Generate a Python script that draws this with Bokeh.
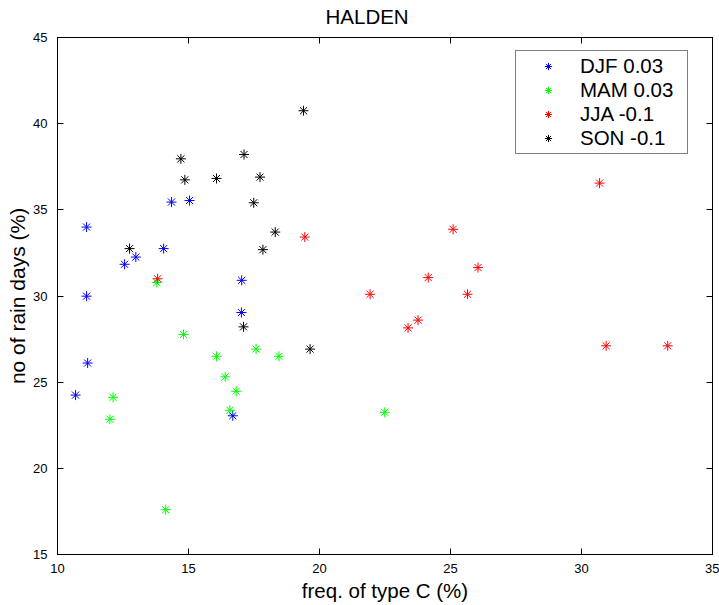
from bokeh.plotting import figure
from bokeh.models import (LinearAxis, Range1d, SingleIntervalTicker, Legend,
                          LegendItem, ColumnDataSource)
from bokeh.embed import file_html
from bokeh.resources import INLINE

# ---- data ----
djf_x = [14.35, 15.04, 11.11, 14.05, 12.99, 12.56, 17.03, 11.11, 17.02, 11.15, 10.69, 16.69]
djf_y = [35.45, 35.54, 34.00, 32.75, 32.26, 31.84, 30.91, 29.99, 29.04, 26.11, 24.25, 23.05]
mam_x = [13.79, 14.81, 17.58, 16.07, 18.45, 16.40, 16.82, 12.12, 16.58, 12.00, 14.13, 22.49]
mam_y = [30.78, 27.77, 26.92, 26.50, 26.50, 25.31, 24.47, 24.12, 23.37, 22.85, 17.60, 23.25]
jja_x = [13.82, 19.44, 21.93, 30.69, 25.10, 26.05, 24.15, 25.65, 23.76, 23.38, 30.94, 33.29]
jja_y = [31.00, 33.42, 30.10, 36.55, 33.87, 31.65, 31.07, 30.10, 28.60, 28.15, 27.11, 27.11]
son_x = [19.39, 14.71, 17.12, 14.86, 16.07, 17.73, 17.49, 18.31, 12.75, 17.84, 17.10, 19.64]
son_y = [40.75, 37.96, 38.21, 36.74, 36.82, 36.90, 35.41, 33.71, 32.75, 32.69, 28.21, 26.92]

series_labels = ["DJF 0.03", "MAM 0.03", "JJA -0.1", "SON -0.1"]
series_colors = ["#0000ff", "#00ff00", "#ff0000", "#000000"]
series_x = [djf_x, mam_x, jja_x, son_x]
series_y = [djf_y, mam_y, jja_y, son_y]

title_text = "HALDEN"
x_label = "freq. of type C (%)"
y_label = "no of rain days (%)"
x_min, x_max, y_min, y_max = 10, 35, 15, 45
tick_step = 5

FONT = "Liberation Sans"

p = figure(width=719, height=605, output_backend="svg", toolbar_location=None,
           x_range=Range1d(x_min, x_max), y_range=Range1d(y_min, y_max),
           min_border_left=57, min_border_right=7, min_border_top=37,
           min_border_bottom=51)
p.background_fill_color = "white"
p.border_fill_color = "white"
p.outline_line_color = "black"
p.outline_line_width = 1
p.xgrid.visible = False
p.ygrid.visible = False

p.title.text = title_text
p.title.align = "left"
p.title.offset = 268
p.title.vertical_align = "top"
p.title.text_font = FONT
p.title.text_font_size = "20.5px"
p.title.text_font_style = "normal"
p.title.text_color = "black"
p.title.standoff = 8

def style_axis(ax, labels=True):
    ax.ticker = SingleIntervalTicker(interval=tick_step)
    ax.major_tick_in = 6
    ax.major_tick_out = 0
    ax.minor_tick_line_color = None
    ax.axis_line_color = "black"
    ax.major_tick_line_color = "black"
    ax.major_label_text_font = FONT
    if labels:
        ax.major_label_text_font_size = "13px"
        ax.major_label_text_color = "black"
    else:
        ax.major_label_text_font_size = "1px"
        ax.major_label_text_color = None
        ax.major_label_standoff = 0

xa = p.xaxis[0]
ya = p.yaxis[0]
style_axis(xa)
style_axis(ya)
xa.major_label_standoff = 5
ya.major_label_standoff = 6
xa.axis_label = x_label
ya.axis_label = y_label
for ax in (xa, ya):
    ax.axis_label_text_font = FONT
    ax.axis_label_text_font_style = "normal"
    ax.axis_label_text_color = "black"
xa.axis_label_text_font_size = "20.5px"
ya.axis_label_text_font_size = "21px"
xa.axis_label_standoff = 3
ya.axis_label_standoff = 1

top_ax = LinearAxis()
right_ax = LinearAxis()
style_axis(top_ax, labels=False)
style_axis(right_ax, labels=False)
p.add_layout(top_ax, "above")
p.add_layout(right_ax, "right")

renderers = []
for xs, ys, c in zip(series_x, series_y, series_colors):
    src = ColumnDataSource(dict(x=xs, y=ys))
    r = p.scatter("x", "y", source=src, marker="asterisk", size=10,
                  line_color=c, line_width=1)
    renderers.append(r)

legend = Legend(items=[LegendItem(label=l, renderers=[r])
                       for l, r in zip(series_labels, renderers)],
                location=(458, 400))
legend.label_text_font = FONT
legend.label_text_font_size = "20.5px"
legend.label_text_color = "black"
legend.border_line_color = "black"
legend.border_line_width = 1
legend.background_fill_color = "white"
legend.background_fill_alpha = 1.0
legend.padding = 3
legend.margin = 0
legend.spacing = 0
legend.glyph_width = 58
legend.glyph_height = 18
legend.label_height = 24
legend.label_width = 104
legend.label_standoff = 3
p.add_layout(legend)

open("out.html", "w").write(file_html(p, INLINE))
